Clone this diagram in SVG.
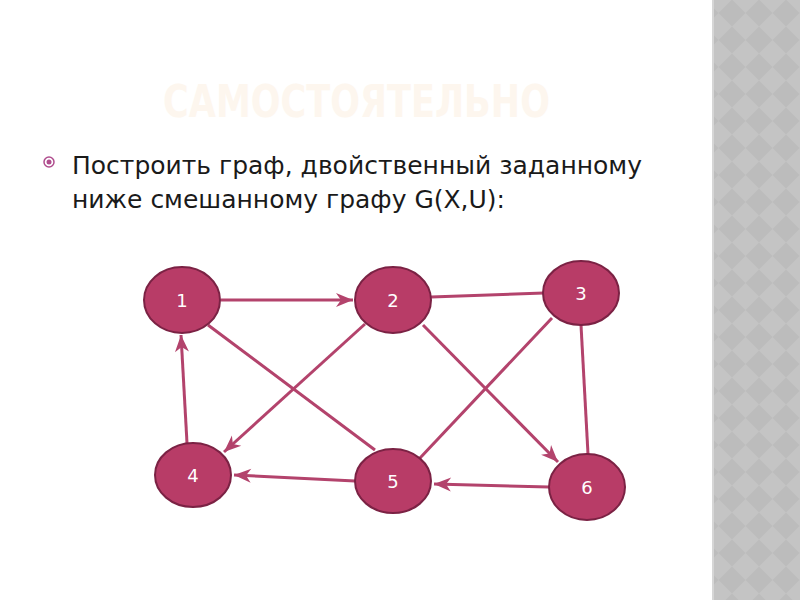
<svg xmlns="http://www.w3.org/2000/svg" width="800" height="600" viewBox="0 0 800 600">
<defs>
<style>
.node ellipse{fill:#b83c67;stroke:#7b2244;stroke-width:2}
.node text{fill:#ffffff;font-family:"DejaVu Sans","Noto Sans",sans-serif;font-size:18px;text-anchor:middle;dominant-baseline:central}
.edge{stroke:#b3436c;stroke-width:3;fill:none}
.arr{marker-end:url(#ah)}
.body{font-family:"DejaVu Sans","Noto Sans",sans-serif;font-size:24px;fill:#1a1a1a}
</style>
<marker id="ah" markerUnits="userSpaceOnUse" markerWidth="20" markerHeight="16" viewBox="-18 -8 20 16" refX="0" refY="0" orient="auto">
<path d="M0,0 L-17,-7 L-12,0 L-17,7 Z" fill="#b3436c"/>
</marker>
<pattern id="diam" patternUnits="userSpaceOnUse" x="732" y="13" width="27" height="27">
<rect width="27" height="27" fill="#bcbcbc"/>
<path d="M13.5,0 L27,13.5 L13.5,27 L0,13.5 Z" fill="#c4c4c4"/>
</pattern>
</defs>
<rect width="800" height="600" fill="#ffffff"/>
<rect x="713" y="0" width="87" height="600" fill="url(#diam)"/>
<rect x="712" y="0" width="2" height="600" fill="#d6d6d6"/>
<text x="163" y="117" font-family="DejaVu Sans, sans-serif" font-weight="bold" font-size="44" fill="#fdf6ee" textLength="387" lengthAdjust="spacingAndGlyphs">САМОСТОЯТЕЛЬНО</text>
<g id="bullet">
<circle cx="49" cy="162" r="5" fill="none" stroke="#b04d8e" stroke-width="1.5"/>
<circle cx="49" cy="162" r="2.5" fill="#b04d8e"/>
</g>
<text class="body" x="72" y="174" textLength="570" lengthAdjust="spacingAndGlyphs">Построить граф, двойственный заданному</text>
<text class="body" x="72" y="208" textLength="433" lengthAdjust="spacingAndGlyphs">ниже смешанному графу G(X,U):</text>
<g id="edges">
<line class="edge arr" x1="221" y1="300" x2="353" y2="300"/>
<line class="edge arr" x1="187" y1="443" x2="181" y2="335"/>
<line class="edge arr" x1="365" y1="324" x2="224" y2="452"/>
<line class="edge arr" x1="423" y1="325" x2="558" y2="462"/>
<line class="edge" x1="208" y1="325" x2="375" y2="450"/>
<line class="edge" x1="552" y1="318" x2="420" y2="458"/>
<line class="edge arr" x1="355" y1="481" x2="234" y2="475"/>
<line class="edge arr" x1="549" y1="487" x2="434" y2="484"/>
<line class="edge" x1="431" y1="297" x2="544" y2="293"/>
<line class="edge" x1="581" y1="325" x2="588" y2="454"/>
</g>
<g id="n1" class="node"><ellipse cx="182" cy="300" rx="38" ry="33"/><text x="182" y="300">1</text></g>
<g id="n2" class="node"><ellipse cx="393" cy="300" rx="38" ry="33"/><text x="393" y="300">2</text></g>
<g id="n3" class="node"><ellipse cx="581" cy="293" rx="38" ry="32"/><text x="581" y="293">3</text></g>
<g id="n4" class="node"><ellipse cx="193" cy="475" rx="38" ry="32"/><text x="193" y="475">4</text></g>
<g id="n5" class="node"><ellipse cx="393" cy="481" rx="38" ry="32"/><text x="393" y="481">5</text></g>
<g id="n6" class="node"><ellipse cx="587" cy="487" rx="38" ry="33"/><text x="587" y="487">6</text></g>
</svg>
